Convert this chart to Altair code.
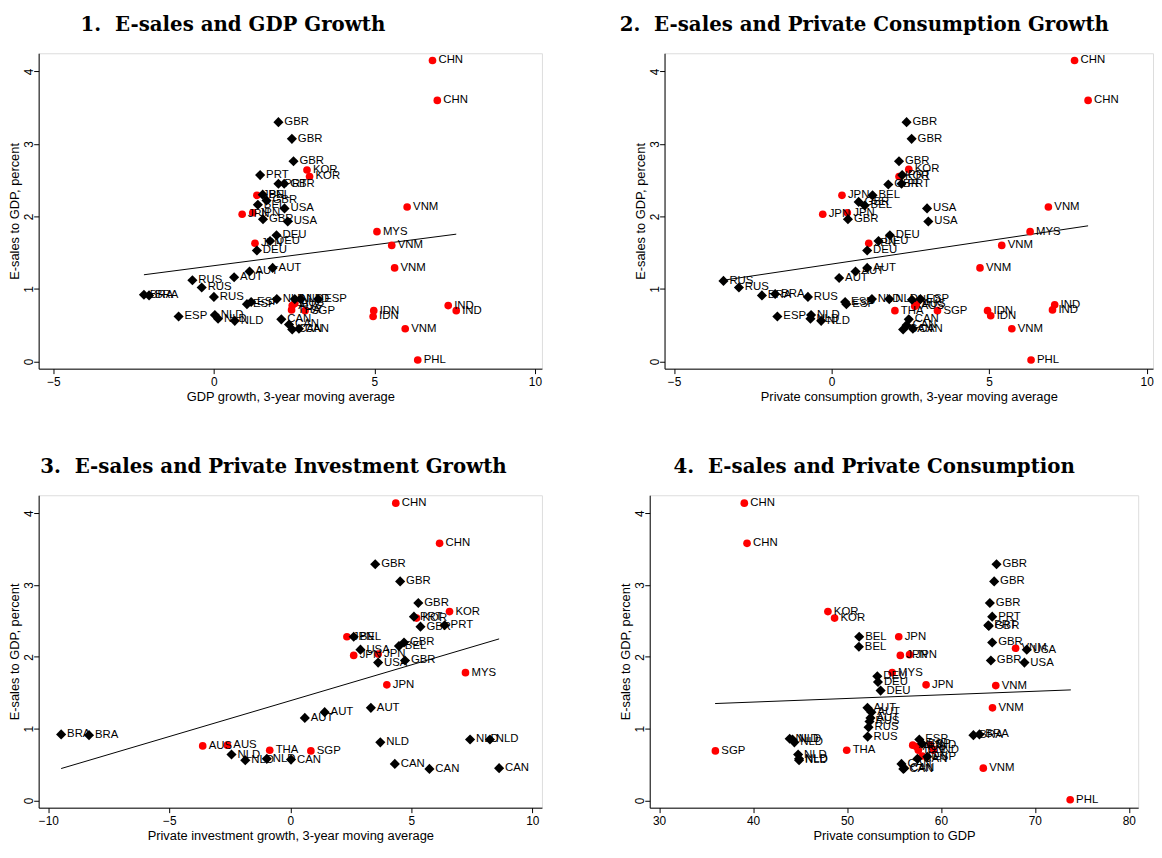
import altair as alt
import pandas as pd

# ---------------- Panel 1: GDP growth ----------------
p1_lab = ["CHN","CHN","KOR","KOR","VNM","MYS","VNM","VNM","IND","IND","IDN","IDN","VNM","PHL",
          "JPN","JPN","JPN","JPN","AUS","AUS","THA","SGP",
          "GBR","GBR","GBR","PRT","PRT","GBR","BEL","GBR","BEL","USA","GBR","USA","DEU","DEU","DEU",
          "AUT","AUT","AUT","RUS","RUS","RUS","BRA","BRA","ESP","ESP","NLD","NLD","NLD","ESP","ESP",
          "NLD","NLD","NLD","CAN","CAN","CAN","CAN"]
p1_x = [6.81,6.96,2.90,2.98,6.02,5.08,5.54,5.63,7.30,7.55,4.98,4.96,5.96,6.35,
        1.34,0.88,1.21,1.28,2.44,2.52,2.42,2.84,
        2.01,2.43,2.48,1.44,2.01,2.19,1.52,1.64,1.37,2.20,1.53,2.30,1.95,1.75,1.34,
        1.83,1.11,0.63,-0.67,-0.38,0.00,-2.18,-2.02,1.03,1.16,1.96,2.52,2.70,3.25,-1.10,
        0.03,0.13,0.65,2.10,2.34,2.44,2.65]
p1_y = [4.15,3.60,2.64,2.55,2.13,1.79,1.60,1.29,0.77,0.70,0.70,0.62,0.45,0.02,
        2.29,2.03,2.05,1.63,0.77,0.80,0.71,0.70,
        3.30,3.07,2.76,2.57,2.45,2.45,2.30,2.22,2.16,2.11,1.96,1.93,1.74,1.66,1.53,
        1.29,1.24,1.16,1.12,1.02,0.89,0.92,0.91,0.79,0.82,0.86,0.86,0.86,0.86,0.62,
        0.64,0.59,0.56,0.58,0.51,0.44,0.45]
p1_nred = 22
p1_fit_x = [-2.18, 7.55]
p1_fit_y = [1.195, 1.755]

# ---------------- Panel 2: Private consumption growth ----------------
p2_lab = ["CHN","CHN","KOR","KOR","JPN","JPN","JPN","JPN","VNM","MYS","VNM","VNM","IND","IND",
          "IDN","IDN","VNM","PHL","THA","SGP","AUS","AUS",
          "GBR","GBR","GBR","PRT","PRT","GBR","BEL","GBR","BEL","USA","USA","GBR","DEU","DEU","DEU",
          "AUT","AUT","AUT","RUS","RUS","RUS","BRA","BRA","ESP","NLD","NLD","NLD","ESP","ESP",
          "NLD","NLD","NLD","ESP","CAN","CAN","CAN","CAN"]
p2_x = [7.71,8.14,2.45,2.14,0.33,-0.28,0.50,1.18,6.88,6.30,5.40,4.71,7.08,7.01,
        4.95,5.05,5.72,6.33,2.01,3.36,2.64,2.69,
        2.38,2.54,2.14,2.24,2.22,1.80,1.30,0.86,1.05,3.03,3.07,0.52,1.85,1.49,1.13,
        1.13,0.76,0.24,-3.43,-2.94,-0.75,-2.21,-1.79,-1.72,-0.65,-0.67,-0.33,0.43,0.47,
        1.28,1.83,2.55,2.82,2.45,2.38,2.27,2.58]
p2_y = [4.15,3.60,2.65,2.55,2.29,2.03,2.05,1.63,2.13,1.79,1.60,1.29,0.78,0.71,
        0.70,0.63,0.45,0.02,0.70,0.70,0.76,0.79,
        3.30,3.07,2.76,2.57,2.45,2.44,2.29,2.20,2.15,2.11,1.93,1.96,1.74,1.66,1.53,
        1.29,1.24,1.15,1.11,1.02,0.89,0.91,0.93,0.62,0.64,0.59,0.56,0.82,0.79,
        0.86,0.86,0.85,0.86,0.58,0.50,0.44,0.45]
p2_nred = 22
p2_fit_x = [-3.43, 8.14]
p2_fit_y = [1.12, 1.87]

# ---------------- Panel 3: Private investment growth ----------------
p3_lab = ["CHN","CHN","KOR","KOR","JPN","JPN","JPN","JPN","MYS","AUS","AUS","THA","SGP",
          "GBR","GBR","GBR","PRT","GBR","PRT","BEL","BEL","GBR","USA","USA","GBR",
          "AUT","AUT","AUT","BRA","BRA","NLD","NLD","NLD","NLD","NLD","NLD",
          "CAN","CAN","CAN","CAN"]
p3_x = [4.36,6.17,6.58,5.22,2.34,2.62,3.63,3.99,7.24,-3.62,-2.60,-0.85,0.85,
        3.51,4.54,5.29,5.11,5.38,6.38,2.62,4.49,4.70,2.90,3.63,4.74,
        3.33,1.42,0.60,-9.47,-8.32,3.72,7.43,8.25,-2.43,-1.86,-0.97,
        0.03,4.32,5.75,8.63]
p3_y = [4.14,3.58,2.63,2.54,2.28,2.02,2.04,1.61,1.78,0.76,0.77,0.70,0.69,
        3.29,3.05,2.75,2.56,2.42,2.44,2.28,2.15,2.20,2.10,1.92,1.95,
        1.29,1.23,1.15,0.92,0.91,0.81,0.85,0.85,0.64,0.56,0.58,
        0.57,0.51,0.44,0.45]
p3_nred = 13
p3_fit_x = [-9.47, 8.63]
p3_fit_y = [0.445, 2.25]

# ---------------- Panel 4: Private consumption to GDP ----------------
p4_lab = ["CHN","CHN","KOR","KOR","JPN","JPN","JPN","JPN","MYS","VNM","VNM","VNM","VNM","PHL",
          "SGP","THA","AUS","AUS","IND","IND","IDN","IDN",
          "GBR","GBR","GBR","PRT","PRT","GBR","GBR","GBR","USA","USA","BEL","BEL",
          "DEU","DEU","DEU","AUT","AUT","AUT","RUS","RUS","RUS","BRA","BRA",
          "NLD","NLD","NLD","NLD","NLD","NLD","ESP","ESP","ESP","CAN","CAN","CAN","CAN"]
p4_x = [39.07,39.36,47.97,48.68,55.51,55.68,56.66,58.42,54.81,67.95,65.84,65.49,64.51,73.76,
        35.99,49.97,57.0,57.4,58.9,59.2,57.6,58.0,
        65.92,65.67,65.21,65.46,65.04,65.10,65.46,65.32,69.14,68.89,51.30,51.27,
        53.23,53.30,53.58,52.18,52.6,52.5,52.4,52.3,52.2,63.46,64.1,
        43.9,44.2,44.4,44.8,44.9,44.9,57.7,58.0,58.55,57.5,55.8,56.0,56.1]
p4_y = [4.14,3.58,2.63,2.54,2.28,2.02,2.03,1.61,1.78,2.12,1.60,1.29,0.45,0.01,
        0.69,0.70,0.77,0.75,0.77,0.70,0.70,0.62,
        3.29,3.05,2.75,2.56,2.44,2.43,2.20,1.95,2.10,1.92,2.28,2.14,
        1.73,1.65,1.53,1.29,1.23,1.15,1.10,1.02,0.89,0.91,0.92,
        0.86,0.85,0.81,0.64,0.58,0.56,0.85,0.79,0.61,0.58,0.51,0.44,0.45]
p4_nred = 22
p4_fit_x = [35.96, 73.83]
p4_fit_y = [1.35, 1.54]

FONT = "Liberation Sans"


def panel(labels, xs, ys, nred, fx, fy, xdom, xticks, xtitle, title, w, h, tdx):
    grp = ["red"] * nred + ["black"] * (len(labels) - nred)
    df = pd.DataFrame({"label": labels, "x": xs, "y": ys, "grp": grp})
    fit = pd.DataFrame({"x": fx, "y": fy})
    xs_ = alt.X("x:Q", scale=alt.Scale(domain=xdom, nice=False, zero=False),
                axis=alt.Axis(values=xticks, title=xtitle, grid=False, tickSize=5,
                              labelFontSize=12, titleFontSize=13, titleFontWeight="normal",
                              labelFont=FONT, titleFont=FONT, labelColor="black",
                              titleColor="black", domainColor="black", tickColor="black",
                              titlePadding=3, labelPadding=3))
    ys_ = alt.Y("y:Q", scale=alt.Scale(domain=[-0.1, 4.25], nice=False, zero=False),
                axis=alt.Axis(values=[0, 1, 2, 3, 4], title="E-sales to GDP, percent",
                              grid=False, tickSize=5, labelAngle=270, labelAlign="center",
                              labelBaseline="alphabetic", labelFontSize=12, titleFontSize=13,
                              titleFontWeight="normal", labelFont=FONT, titleFont=FONT,
                              labelColor="black", titleColor="black", domainColor="black",
                              tickColor="black", labelPadding=1, titleX=-24,
                              titleBaseline="middle", titleAlign="center"))
    base = alt.Chart(df)
    red = base.transform_filter(alt.datum.grp == "red").mark_circle(
        size=60, color="#ff0000", opacity=1).encode(x=xs_, y=ys_)
    blk = base.transform_filter(alt.datum.grp == "black").mark_point(
        shape="diamond", filled=True, size=105, color="black", opacity=1).encode(x=xs_, y=ys_)
    txt = base.mark_text(align="left", baseline="middle", dx=6, fontSize=11.5, font=FONT,
                         color="black").encode(x=xs_, y=ys_, text="label:N")
    line = alt.Chart(fit).mark_line(color="black", strokeWidth=1).encode(x=xs_, y=ys_)
    return alt.layer(line, red, blk, txt).properties(
        width=w, height=h,
        title=alt.TitleParams(title, font="DejaVu Serif", fontSize=20, fontWeight="bold",
                              color="black", anchor="middle", offset=18.5, dx=tdx))


c1 = panel(p1_lab, p1_x, p1_y, p1_nred, p1_fit_x, p1_fit_y, [-5.46, 10.22], [-5, 0, 5, 10],
           "GDP growth, 3-year moving average", "1.\u00a0 E-sales and GDP Growth",
           509, 319, -58)
c2 = panel(p2_lab, p2_x, p2_y, p2_nred, p2_fit_x, p2_fit_y, [-5.3, 10.2], [-5, 0, 5, 10],
           "Private consumption growth, 3-year moving average",
           "2.\u00a0 E-sales and Private Consumption Growth", 494, 319, -45)
c3 = panel(p3_lab, p3_x, p3_y, p3_nred, p3_fit_x, p3_fit_y, [-10.4, 10.4], [-10, -5, 0, 5, 10],
           "Private investment growth, 3-year moving average",
           "3.\u00a0 E-sales and Private Investment Growth", 509, 316, -17)
c4 = panel(p4_lab, p4_x, p4_y, p4_nred, p4_fit_x, p4_fit_y, [29.0, 81.0], [30, 40, 50, 60, 70, 80],
           "Private consumption to GDP", "4.\u00a0 E-sales and Private Consumption",
           494, 316, -20)

chart = alt.vconcat(
    alt.hconcat(c1, c2, spacing=77),
    alt.hconcat(c3, c4, spacing=77),
    spacing=53,
).properties(padding={"left": 0, "top": 2, "right": 0, "bottom": 0}).configure_view(
    stroke="#555555", strokeWidth=1
).configure(background="white")

chart.save("out.html", embed_options={"renderer": "svg", "actions": False})
